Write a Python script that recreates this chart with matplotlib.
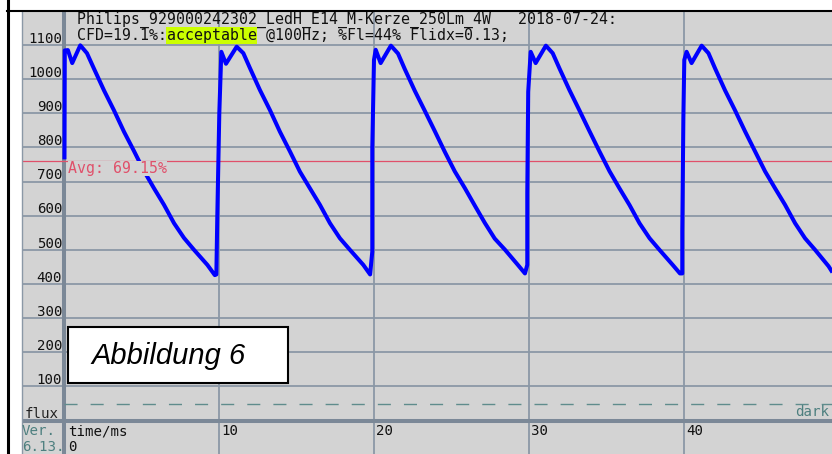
import matplotlib
matplotlib.use("Agg")
import matplotlib.pyplot as plt
from matplotlib.patches import Rectangle
from matplotlib.lines import Line2D

# flux readings (time in ms, flux in counts), one list per 10 ms cycle
t1 = [0.00, 0.02, 0.22, 0.50, 1.02, 1.45, 1.90, 2.55, 3.20, 3.84, 4.49, 5.13, 5.78, 6.42, 7.07, 7.71, 8.36, 9.22, 9.70]
v1 = [765, 1084, 1085, 1047, 1099, 1076, 1031, 967, 908, 846, 789, 731, 680, 632, 578, 535, 500, 456, 426]
t2 = [9.80, 9.86, 9.99, 10.12, 10.42, 11.11, 11.54, 11.97, 12.61, 13.26, 13.90, 14.55, 15.19, 15.84, 16.48, 17.13, 17.77, 18.42, 19.28, 19.72]
v2 = [428, 597, 900, 1080, 1045, 1095, 1076, 1032, 968, 909, 846, 788, 729, 680, 632, 578, 534, 500, 456, 428]
t3 = [19.86, 19.86, 19.97, 20.08, 20.40, 21.06, 21.52, 21.95, 22.60, 23.25, 23.89, 24.54, 25.18, 25.83, 26.47, 27.12, 27.76, 28.41, 29.27, 29.71]
v3 = [495, 798, 1056, 1086, 1047, 1098, 1075, 1030, 966, 907, 848, 787, 730, 681, 630, 579, 533, 501, 455, 431]
t4 = [29.86, 29.86, 29.92, 30.08, 30.40, 31.06, 31.50, 31.94, 32.59, 33.23, 33.88, 34.52, 35.17, 35.81, 36.46, 37.10, 37.75, 38.39, 39.26, 39.71]
v4 = [456, 666, 963, 1080, 1047, 1098, 1076, 1031, 967, 908, 847, 788, 730, 680, 631, 578, 534, 500, 455, 431]
t5 = [39.86, 39.86, 39.93, 39.99, 40.14, 40.46, 41.11, 41.55, 41.98, 42.62, 43.27, 43.91, 44.56, 45.20, 45.85, 46.49, 47.14, 47.78, 48.43, 49.30, 49.55]
v5 = [431, 553, 885, 1056, 1080, 1047, 1098, 1076, 1031, 967, 908, 847, 788, 730, 680, 632, 578, 534, 500, 452, 434]

time_ms = t1 + t2 + t3 + t4 + t5
flux = v1 + v2 + v3 + v4 + v5

x_ticks = [10, 20, 30, 40]
y_ticks = [100, 200, 300, 400, 500, 600, 700, 800, 900, 1000, 1100]
avg_level = 761
dark_level = 50

title_1 = "Philips_929000242302_LedH_E14_M-Kerze_250Lm_4W   2018-07-24:"
title_2a = "CFD=19.1%:"
title_2b = "acceptable"
title_2c = " @100Hz; %Fl=44% Flidx=0.13;"
avg_label = "Avg: 69.15%"

W, H = 832, 454
MONO = "DejaVu Sans Mono"
BG = "#d3d3d3"
GRID = "#8b98a6"
AXIS = "#7b8897"
TEAL = "#4d7f7f"
RED = "#e0506a"


def fx(px):
    return px / W


def fy(py):
    return 1 - py / H


fig = plt.figure(figsize=(W / 100, H / 100), dpi=100)
fig.patch.set_facecolor("white")

# gray panel; data limits chosen so 0 ms / 0 counts sit on the thick axis lines
ax = fig.add_axes([fx(22), 0, (W - 22) / W, 1 - 11 / H])
ax.set_facecolor(BG)
ax.set_xlim(-2.74, 49.52)
ax.set_ylim(-97.8, 1199.5)
ax.set_xticks(x_ticks)
ax.set_yticks(y_ticks)
ax.tick_params(length=0, labelbottom=False, labelleft=False)
ax.grid(True, color=GRID, lw=1.3)
for side in ["top", "right", "bottom"]:
    ax.spines[side].set_visible(False)
ax.spines["left"].set_color(GRID)
ax.spines["left"].set_linewidth(1.0)

ax.axvline(0, color=AXIS, lw=2.9, zorder=2)
ax.axhline(0, color=AXIS, lw=2.9, zorder=2)

ax.hlines(dark_level, 0, ax.get_xlim()[1], colors="#5f8c8c", lw=1.0,
          linestyles=(0, (9.4, 9.4)), zorder=2)
ax.axhline(avg_level, color=RED, lw=0.9, zorder=2)

ax.plot(time_ms, flux, color="#0000ff", lw=2.9, zorder=3,
        solid_joinstyle="round", solid_capstyle="butt")

ax.annotate(avg_label, xy=(0, avg_level), xytext=(2.8, -9.1), textcoords="offset points",
            family=MONO, size=10.7, color=RED, va="baseline", zorder=4,
            bbox=dict(boxstyle="square,pad=0.0", fc=BG, ec="none"))

for v in y_ticks:
    ax.annotate(str(v), xy=(0, v), xytext=(-1.6, 1.6), textcoords="offset points",
                family=MONO, size=10.2, ha="right", va="baseline", color="#111111",
                annotation_clip=False)
for t in x_ticks:
    ax.annotate(str(t), xy=(t, 0), xytext=(1.3, -10.4), textcoords="offset points",
                family=MONO, size=10.2, ha="left", va="baseline", color="#111111")
ax.annotate("time/ms", xy=(0, 0), xytext=(2.7, -10.4), textcoords="offset points",
            family=MONO, size=10.2, ha="left", va="baseline", color="#111111")
ax.annotate("0", xy=(0, 0), xytext=(2.7, -21.7), textcoords="offset points",
            family=MONO, size=10.2, ha="left", va="baseline", color="#111111")

# header lines (line 2 first so the underscores of line 1 stay visible on top)
fig.text(fx(166.5), fy(40), title_2b, family=MONO, size=10.7, va="baseline", color="#111111",
         bbox=dict(boxstyle="square,pad=0.05", fc="#ccff00", ec="none"))
fig.text(fx(77), fy(40), title_2a + " " * len(title_2b) + title_2c, family=MONO, size=10.7,
         va="baseline", color="#111111")
fig.text(fx(77), fy(23.5), title_1, family=MONO, size=10.7, va="baseline", color="#111111",
         zorder=5)

fig.text(fx(25), fy(417.5), "flux", family=MONO, size=10.2, va="baseline", color="#222222")
fig.text(fx(829), fy(415.7), "dark", family=MONO, size=10.2, va="baseline", ha="right", color=TEAL)
fig.text(fx(22), fy(435), "Ver.", family=MONO, size=10.2, va="baseline", color=TEAL)
fig.text(fx(22), fy(450.7), "6.13.", family=MONO, size=10.2, va="baseline", color=TEAL)

# "Abbildung 6" caption box
fig.add_artist(Rectangle((fx(68.3), fy(383.3)), (288.3 - 68.3) / W, (383.3 - 327.3) / H,
                         transform=fig.transFigure, fc="white", ec="black", lw=1.5, zorder=5))
fig.text(fx(91), fy(364.3), "Abbildung 6", family="Liberation Sans", style="italic",
         size=21, va="baseline", color="black", zorder=6)

# black frame of the surrounding document
fig.add_artist(Line2D([fx(8), fx(8)], [0, 1], transform=fig.transFigure, color="black", lw=2.2))
fig.add_artist(Line2D([fx(7), 1], [fy(10.5), fy(10.5)], transform=fig.transFigure, color="black", lw=1.5))

fig.savefig("out.png", dpi=100)
